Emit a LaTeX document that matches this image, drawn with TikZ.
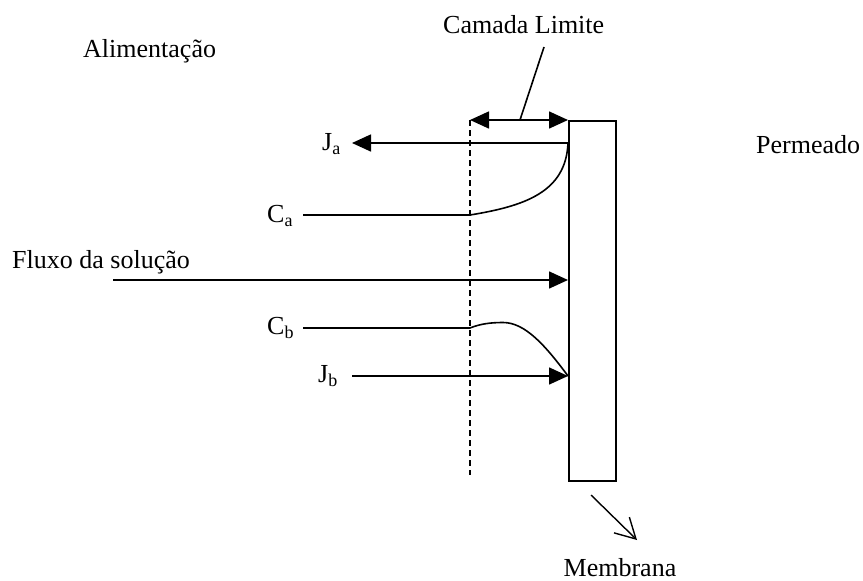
\documentclass[tikz,border=0pt]{standalone}
\usepackage{fontspec}
\setmainfont{Liberation Serif}
\usetikzlibrary{arrows.meta}
\begin{document}
\begin{tikzpicture}[x=1pt,y=-1pt,
  lbl/.style={inner sep=0pt,anchor=base west,font=\fontsize{26}{30}\selectfont},
  ln/.style={line width=1.6pt},
  tri/.style={-{Triangle[length=19pt,width=17pt]}}]
\useasboundingbox (0,0) rectangle (863,581);
% labels
\node[lbl] (alim) at (83,57) {Alimentação};
\node[lbl] (cam) at (443,33) {Camada Limite};
\node[lbl] (perm) at (756,153) {Permeado};
\node[lbl] (flux) at (12,268) {Fluxo da solução};
\node[lbl,anchor=base] (memb) at (620,576) {Membrana};
\node[lbl] (ja) at (322,150) {J\raisebox{-4pt}{\fontsize{18}{20}\selectfont a}};
\node[lbl] (ca) at (267,222) {C\raisebox{-4pt}{\fontsize{18}{20}\selectfont a}};
\node[lbl] (cb) at (267,334) {C\raisebox{-4pt}{\fontsize{18}{20}\selectfont b}};
\node[lbl] (jb) at (318,382) {J\raisebox{-4pt}{\fontsize{18}{20}\selectfont b}};
% membrane
\node[draw,ln,inner sep=0pt,minimum width=47pt,minimum height=360pt,anchor=north west] (mem) at (568,120) {};
% coordinates
\coordinate (dtop) at (470,120);
\coordinate (dbot) at (470,475);
\coordinate (mtop) at (568,120);
\coordinate (clA) at (544,47);
\coordinate (clB) at (520,120);
\coordinate (jaS) at (568,143);
\coordinate (jaE) at (352,143);
\coordinate (caS) at (303,215);
\coordinate (caD) at (470,215);
\coordinate (fS) at (113,280);
\coordinate (fE) at (568,280);
\coordinate (cbS) at (303,328);
\coordinate (cbD) at (470,328);
\coordinate (cbP) at (503,322.5);
\coordinate (jbS) at (352,376);
\coordinate (jbE) at (568,376);
\coordinate (mA) at (591,495);
\coordinate (mB) at (637,540);
% dashed boundary
\draw[ln,dash pattern=on 6pt off 4pt] (dtop) -- (dbot);
% camada limite
\draw[ln,{Triangle[length=19pt,width=17pt]}-{Triangle[length=19pt,width=17pt]}] (dtop) -- (mtop);
\draw[ln] (clA) -- (clB);
% Ja
\draw[ln,tri] (jaS) -- (jaE);
% Ca
\draw[ln] (caS) -- (caD) .. controls (525,206) and (566,192) .. (jaS);
% Fluxo
\draw[ln,tri] (fS) -- (fE);
% Cb
\draw[ln] (cbS) -- (cbD) .. controls (480,324) and (490,322.5) .. (cbP) .. controls (525,322.5) and (545,345) .. (jbE);
% Jb
\draw[ln,tri] (jbS) -- (jbE);
% membrana pointer
\draw[line width=1.4pt,-{Straight Barb[length=20pt,width=22pt,line width=1.4pt]}] (mA) -- (mB);
\end{tikzpicture}
\end{document}
